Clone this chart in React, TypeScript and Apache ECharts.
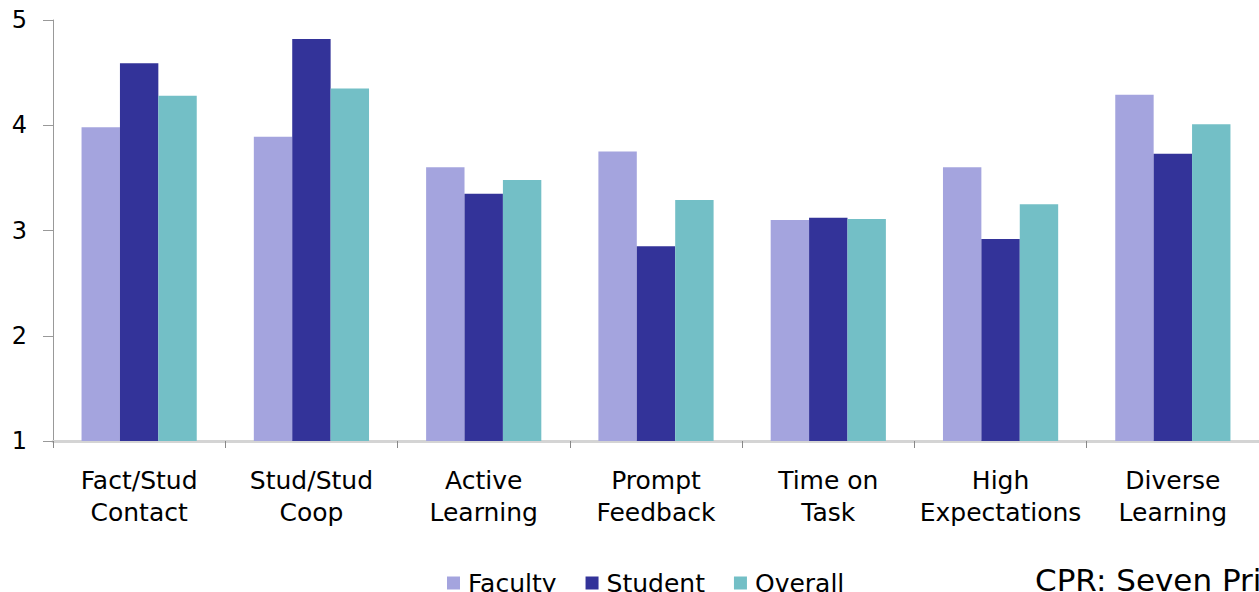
import React, { useEffect, useRef } from "react";
import * as echarts from "echarts";

const categories = [
  "Fact/Stud\nContact",
  "Stud/Stud\nCoop",
  "Active\nLearning",
  "Prompt\nFeedback",
  "Time on\nTask",
  "High\nExpectations",
  "Diverse\nLearning",
];
const faculty = [3.98, 3.89, 3.6, 3.75, 3.1, 3.6, 4.29];
const student = [4.59, 4.82, 3.35, 2.85, 3.12, 2.92, 3.73];
const overall = [4.28, 4.35, 3.48, 3.29, 3.11, 3.25, 4.01];
const seriesNames = ["Faculty", "Student", "Overall"];
const colors = ["#a4a4de", "#333399", "#73bfc6"];
const footerText = "CPR: Seven Principles";

const FONT = "DejaVu Sans";

export default function App() {
  const ref = useRef<HTMLDivElement>(null);
  useEffect(() => {
    document.body.style.margin = "0";
    const chart = echarts.init(ref.current!, null, { renderer: "svg" });
    const data = [faculty, student, overall];
    chart.setOption({
      animation: false,
      textStyle: { fontFamily: FONT },
      grid: { left: 53, right: -5, top: 20, bottom: 151, containLabel: false },
      legend: {
        data: seriesNames,
        left: 447,
        top: 570,
        padding: 0,
        icon: "rect",
        itemWidth: 13,
        itemHeight: 13,
        itemGap: 29,
        textStyle: { fontFamily: FONT, fontSize: 25, color: "#000", lineHeight: 26, padding: [0, 0, 0, 3] },
      },
      xAxis: {
        type: "category",
        data: categories,
        axisLine: { lineStyle: { color: "#d4d4d4", width: 3 } },
        axisTick: { show: true, length: 7, lineStyle: { color: "#888", width: 1 } },
        axisLabel: {
          fontFamily: FONT,
          fontSize: 25,
          lineHeight: 32,
          color: "#000",
          margin: 23,
          interval: 0,
        },
        splitLine: { show: false },
      },
      yAxis: {
        type: "value",
        min: 1,
        max: 5,
        interval: 1,
        axisLine: { show: true, lineStyle: { color: "#999", width: 1 } },
        axisTick: { show: true, length: 10, lineStyle: { color: "#999" } },
        axisLabel: { fontFamily: FONT, fontSize: 24, color: "#000", margin: 26 },
        splitLine: { show: false },
      },
      series: seriesNames.map((name, i) => ({
        name,
        type: "bar",
        data: data[i],
        barWidth: 38.4,
        barGap: "0%",
        itemStyle: { color: colors[i] },
      })),
      graphic: [
        {
          type: "text",
          x: 1035,
          y: 580,
          style: {
            text: footerText,
            font: `31px '${FONT}'`,
            fill: "#000",
            verticalAlign: "middle",
          },
        },
      ],
    });
    return () => chart.dispose();
  }, []);
  return <div ref={ref} style={{ width: 1259, height: 592 }} />;
}
